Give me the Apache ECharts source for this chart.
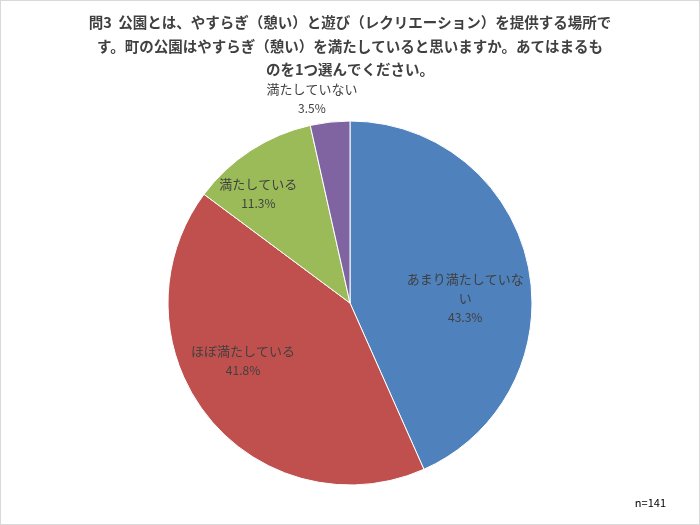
<!DOCTYPE html>
<html><head><meta charset="utf-8">
<script src="https://cdn.jsdelivr.net/npm/echarts@6/dist/echarts.min.js"></script>
<style>html,body{margin:0;padding:0;background:#fff}#c{width:700px;height:525px;box-sizing:border-box;border:1px solid #d9d9d9}</style>
</head><body><div id="c"></div>
<script>
const categories = ['あまり満たしていない', 'ほぼ満たしている', '満たしている', '満たしていない'];
const values = [43.3, 41.8, 11.3, 3.5];
const colors = ['#4F81BD', '#C0504D', '#9BBB59', '#8064A2'];
const titleText = '問3  公園とは、やすらぎ（憩い）と遊び（レクリエーション）を提供する場所で\nす。町の公園はやすらぎ（憩い）を満たしていると思いますか。あてはまるも\nのを1つ選んでください。';
const noteText = 'n=141';

const font = '"Noto Sans CJK JP", sans-serif';
const labelShift = [[-10, 22], [-7, -22], [-22, -2], [-24, -77]];
const chart = echarts.init(document.getElementById('c'));
const mainData = categories.map((n, i) => ({ name: n, value: values[i], itemStyle: { color: colors[i] } }));
const labelData = categories.map((n, i) => ({ name: n, value: values[i], itemStyle: { color: 'rgba(0,0,0,0)' } }));
const wrapName = s => s.length > 9 ? s.slice(0, 9) + '\n' + s.slice(9) : s;
chart.setOption({
  animation: false,
  title: [{
    text: titleText, left: 'center', top: 5,
    textStyle: { fontSize: 14.5, fontWeight: 'bold', color: '#404040', fontFamily: font, lineHeight: 23.5, align: 'center' }
  }, {
    text: noteText, right: 28, bottom: 11,
    textStyle: { fontSize: 11, fontWeight: 'normal', color: '#000', fontFamily: font }
  }],
  series: [{
    type: 'pie', center: [349, 302], radius: [0, 182], startAngle: 90, clockwise: true,
    data: mainData, label: { show: false }, labelLine: { show: false },
    itemStyle: { borderColor: '#fff', borderWidth: 1 }, silent: true
  }, {
    type: 'pie', center: [349, 302], radius: [0, 250], startAngle: 90, clockwise: true,
    data: labelData,
    label: {
      show: true, position: 'inside',
      formatter: p => wrapName(p.name) + '\n{v|' + p.value.toFixed(1) + '%}',
      color: '#404040', fontSize: 13, fontFamily: font, lineHeight: 19, align: 'center',
      rich: { v: { fontSize: 12, fontFamily: font, color: '#404040', lineHeight: 19 } }
    },
    labelLayout: p => ({ dx: labelShift[p.dataIndex][0], dy: labelShift[p.dataIndex][1] }),
    labelLine: { show: false }, silent: true, z: 3
  }]
});
</script></body></html>
